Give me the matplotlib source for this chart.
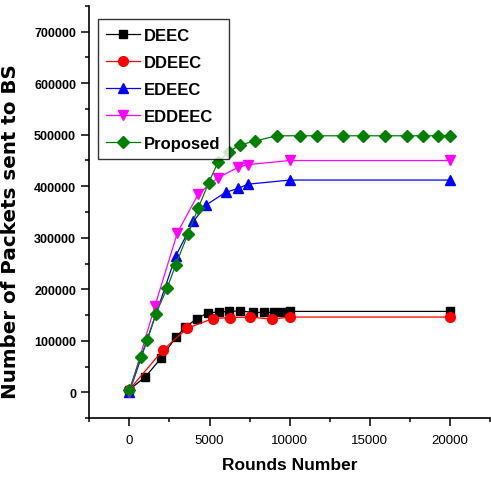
import matplotlib
matplotlib.use("Agg")
import matplotlib.pyplot as plt
from matplotlib.ticker import MultipleLocator

plt.rcParams['font.family'] = ['Liberation Sans', 'DejaVu Sans']

deec_x = [0, 1000, 2000, 2900, 3500, 4200, 4900, 5600, 6200, 6900, 7700, 8400, 9000, 9500, 10000, 20000]
deec_y = [5000, 30000, 67000, 107000, 126000, 143000, 154000, 156000, 157000, 158000, 155000, 155000, 155000, 155000, 157000, 157000]

ddeec_x = [0, 2100, 3600, 5200, 6300, 7500, 8900, 10000, 20000]
ddeec_y = [5000, 82000, 124000, 143000, 145000, 146000, 142000, 146000, 146000]

edeec_x = [0, 2900, 4000, 4800, 6000, 6800, 7400, 10000, 20000]
edeec_y = [0, 265000, 332000, 364000, 388000, 396000, 404000, 412000, 412000]

eddeec_x = [0, 1600, 3000, 4300, 5500, 6800, 7400, 10000, 20000]
eddeec_y = [0, 168000, 310000, 385000, 416000, 437000, 442000, 450000, 450000]

prop_x = [0, 700, 1100, 1650, 2350, 2900, 3650, 4300, 4950, 5550, 6200, 6900, 7850,
          9200, 10650, 11700, 13300, 14600, 15950, 17300, 18300, 19250, 20000]
prop_y = [5000, 68000, 101000, 152000, 202000, 248000, 307000, 358000, 407000, 448000,
          467000, 480000, 488000, 498000, 498000, 498000, 498000, 498000, 498000, 498000,
          498000, 498000, 498000]

labels = ['DEEC', 'DDEEC', 'EDEEC', 'EDDEEC', 'Proposed']

fig = plt.figure(figsize=(4.91, 4.85), dpi=100)
ax = fig.add_axes([89.3/491, 1 - 419/485, 400.7/491, 412/485])

lw = 0.9
ax.plot(deec_x, deec_y, color='black', marker='s', markersize=5.8, lw=lw, label=labels[0])
ax.plot(ddeec_x, ddeec_y, color='red', marker='o', markersize=7, lw=lw, label=labels[1])
ax.plot(edeec_x, edeec_y, color='blue', marker='^', markersize=7.5, lw=lw, label=labels[2])
ax.plot(eddeec_x, eddeec_y, color='magenta', marker='v', markersize=7.5, lw=lw, label=labels[3])
ax.plot(prop_x, prop_y, color='green', marker='D', markersize=6, lw=lw, label=labels[4])

ax.set_xlim(-2500, 22500)
ax.set_ylim(-50000, 750000)
ax.xaxis.set_major_locator(MultipleLocator(5000))
ax.xaxis.set_minor_locator(MultipleLocator(2500))
ax.yaxis.set_major_locator(MultipleLocator(100000))
ax.yaxis.set_minor_locator(MultipleLocator(50000))
ax.spines['top'].set_visible(False)
ax.spines['right'].set_visible(False)
for s in ['left', 'bottom']:
    ax.spines[s].set_linewidth(1.2)
ax.tick_params(which='major', direction='out', length=5.5, width=1.1)
ax.tick_params(which='minor', direction='out', length=3, width=1.1)
ax.tick_params(axis='x', labelsize=9.5, pad=6)
ax.tick_params(axis='y', labelsize=9, pad=4)
for t in ax.get_yticklabels():
    t.set_fontweight('bold')

ax.set_xlabel('Rounds Number', fontsize=12.5, fontweight='bold', labelpad=8)
ax.set_ylabel('Number of Packets sent to BS', fontsize=14.3, fontweight='bold',
              family='DejaVu Sans')
ax.yaxis.set_label_coords(-0.173, 0.455)

leg = ax.legend(loc='upper left', bbox_to_anchor=(0.022, 0.968), borderaxespad=0,
                prop={'weight': 'bold', 'size': 12}, frameon=True, fancybox=False,
                edgecolor='black', handlelength=2.0, handletextpad=0.25,
                labelspacing=0.72, borderpad=0.5)
leg.get_frame().set_linewidth(1.0)

fig.savefig('out.png', dpi=100)
